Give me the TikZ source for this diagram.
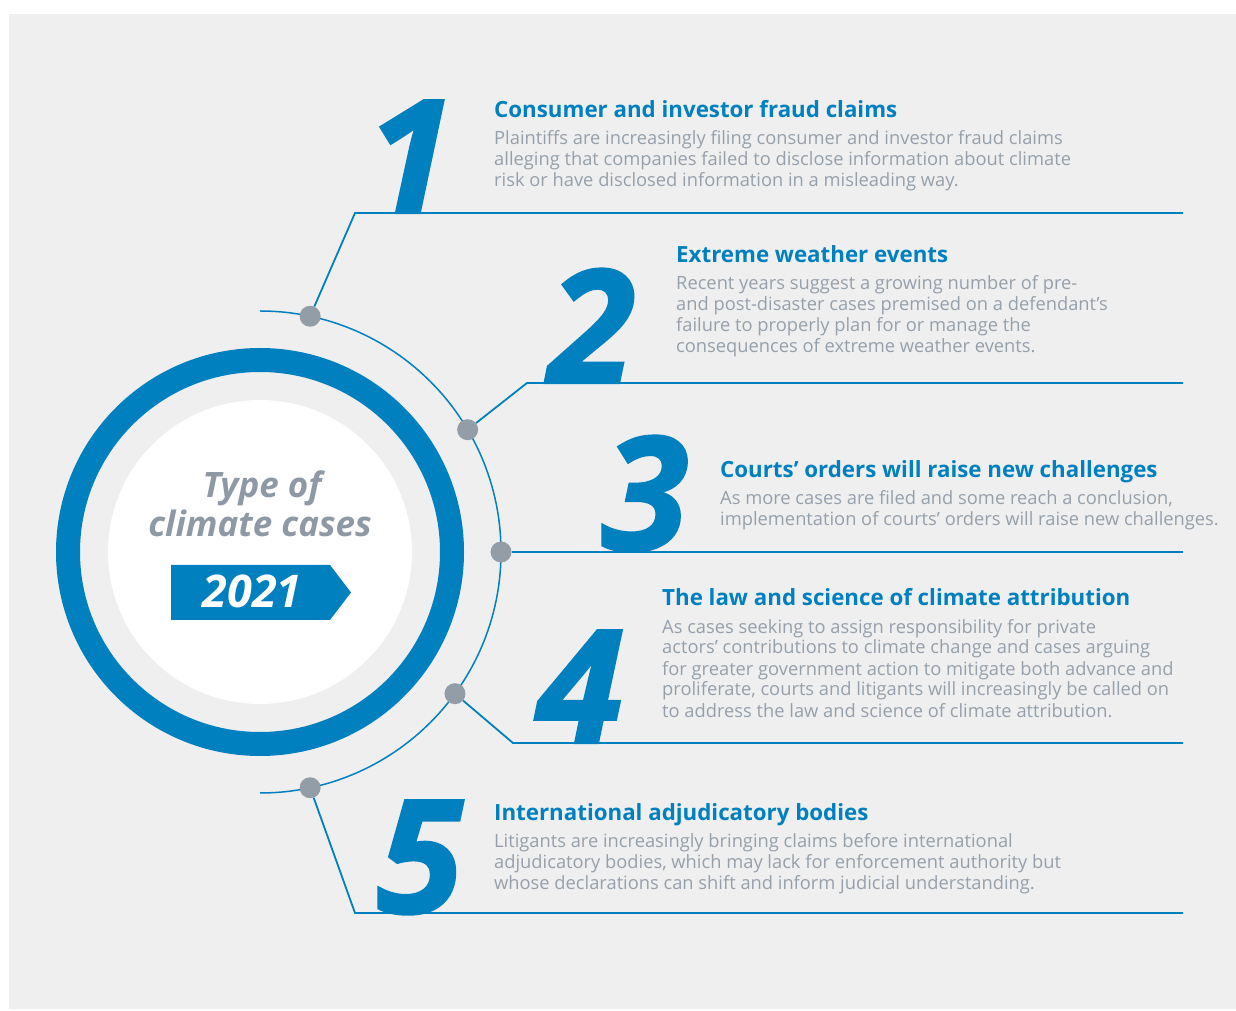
\documentclass[tikz,border=0pt]{standalone}
\usepackage{fontspec}
\setmainfont{Open Sans}
\newfontfamily\numfont[FakeBold=1.5]{Open Sans}
\definecolor{cblue}{HTML}{0080BF}
\definecolor{cgray}{HTML}{96A0AB}
\definecolor{dgray}{HTML}{939DA8}
\definecolor{hgray}{HTML}{8E99A5}
\definecolor{bg}{HTML}{EFEFEF}
\begin{document}
\begin{tikzpicture}[x=1pt,y=1pt,
 conn/.style={cblue, line width=1.8pt},
 dot/.style={circle, fill=dgray, minimum size=21pt, inner sep=0pt},
 bignum/.style={cblue, font=\numfont\fontsize{158}{158}\selectfont\bfseries\itshape, inner sep=0pt, anchor=base},
 ttl/.style={cblue, font=\fontsize{22.3}{26}\selectfont\bfseries, inner sep=0pt, anchor=base west},
 body/.style={cgray, font=\fontsize{18.3}{21}\selectfont, inner sep=0pt, anchor=base west},
 hub/.style={hgray, font=\fontsize{35}{40}\selectfont\bfseries\itshape, inner sep=0pt, anchor=base},
]
\useasboundingbox (0,0) rectangle (1236,1010);
\fill[white] (0,0) rectangle (1236,1010);
\fill[bg] (9,1) rectangle (1236,996);

\coordinate (C) at (260,458);
\draw[cblue, line width=24pt] (C) circle[radius=192];
\fill[white] (C) circle[radius=152];

% outer arc
\draw[cblue, line width=1.5pt] (260,699) arc[start angle=90, end angle=-90, radius=241];

% dots
\path (C) ++(78:241) node[dot] (d1) {};
\path (C) ++(30.5:241) node[dot] (d2) {};
\path (C) ++(0:241) node[dot] (d3) {};
\path (C) ++(-36:241) node[dot] (d4) {};
\path (C) ++(-78:241) node[dot] (d5) {};

% corners and ends
\coordinate (c1) at (355,797);
\coordinate (e1) at (1183,797);
\coordinate (c2) at (527,627);
\coordinate (e2) at (1183,627);
\coordinate (e3) at (1183,458);
\coordinate (c4) at (513,267);
\coordinate (e4) at (1183,267);
\coordinate (c5) at (355,97);
\coordinate (e5) at (1183,97);

\draw[conn] (d1) -- (c1) -- (e1);
\draw[conn] (d2) -- (c2) -- (e2);
\draw[conn] (d3) -- (e3);
\draw[conn] (d4) -- (c4) -- (e4);
\draw[conn] (d5) -- (c5) -- (e5);

% big numbers
\node[bignum] (n1) at (410,797) {1};
\node[bignum] (n2) at (592,627) {2};
\node[bignum] (n3) at (645,460) {3};
\node[bignum] (n4) at (580,267) {4};
\node[bignum] (n5) at (420,97) {5};

% texts
\node[ttl] (t1) at (494,892) {Consumer and investor fraud claims};
\node[body] (b1) at (494,865) {\parbox[t]{700pt}{Plaintiffs are increasingly filing consumer and investor fraud claims\\alleging that companies failed to disclose information about climate\\risk or have disclosed information in a misleading way.}};

\node[ttl] (t2) at (676,747) {Extreme weather events};
\node[body] (b2) at (676,720) {\parbox[t]{700pt}{Recent years suggest a growing number of pre-\\and post-disaster cases premised on a defendant’s\\failure to properly plan for or manage the\\consequences of extreme weather events.}};

\node[ttl] (t3) at (720,532) {Courts’ orders will raise new challenges};
\node[body] (b3) at (720,505) {\parbox[t]{700pt}{As more cases are filed and some reach a conclusion,\\implementation of courts’ orders will raise new challenges.}};

\node[ttl] (t4) at (662,404) {The law and science of climate attribution};
\node[body] (b4) at (662,377) {\parbox[t]{700pt}{As cases seeking to assign responsibility for private\\actors’ contributions to climate change and cases arguing\\for greater government action to mitigate both advance and\\proliferate, courts and litigants will increasingly be called on\\to address the law and science of climate attribution.}};

\node[ttl] (t5) at (494,190) {International adjudicatory bodies};
\node[body] (b5) at (494,163) {\parbox[t]{700pt}{Litigants are increasingly bringing claims before international\\adjudicatory bodies, which may lack for enforcement authority but\\whose declarations can shift and inform judicial understanding.}};

% hub
\node[hub] (h1) at (262,512) {Type of};
\node[hub] (h2) at (260,473) {climate cases};
\fill[cblue] (171,445) -- (330,445) -- (351,417.5) -- (330,390) -- (171,390) -- cycle;
\node[white, font=\fontsize{45}{50}\selectfont\bfseries\itshape, inner sep=0pt, anchor=base] (yr) at (252,402) {2021};
\end{tikzpicture}
\end{document}
